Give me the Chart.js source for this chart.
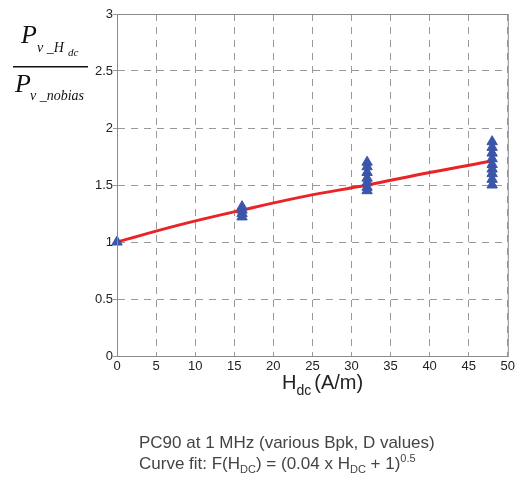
<!DOCTYPE html>
<html>
<head>
<meta charset="utf-8">
<script src="https://cdn.jsdelivr.net/npm/chart.js@4/dist/chart.umd.min.js"></script>
<style>
  body { margin: 0; background: #fff; }
</style>
</head>
<body>
<canvas id="myChart" width="518" height="486"></canvas>
<script>
// measured points (H_dc in A/m, normalized loss)
const hdc16 = [1.22, 1.25, 1.28, 1.31];
const hdc32 = [1.45, 1.48, 1.52, 1.56, 1.61, 1.66, 1.70];
const hdc48 = [1.50, 1.55, 1.60, 1.64, 1.68, 1.73, 1.78, 1.83, 1.88];
const hdc0 = [1.0];

// curve fit
const fitX = [0, 8, 16, 24, 32, 40, 48];
const fitY = [1.0, 1.15, 1.28, 1.40, 1.50, 1.61, 1.71];

const xTicks = [0, 5, 10, 15, 20, 25, 30, 35, 40, 45, 50];
const yTicks = [0, 0.5, 1, 1.5, 2, 2.5, 3];

const points = [];
hdc0.forEach(v => points.push({x: 0, y: v}));
hdc16.forEach(v => points.push({x: 16, y: v}));
hdc32.forEach(v => points.push({x: 32, y: v}));
hdc48.forEach(v => points.push({x: 48, y: v}));

const fit = fitX.map((x, i) => ({x: x, y: fitY[i]}));

const frameAndText = {
    id: 'frameAndText',
    afterDraw(chart) {
        const ctx = chart.ctx;
        const a = chart.chartArea;
        ctx.save();
        // box
        ctx.strokeStyle = '#8a8a8a';
        ctx.lineWidth = 1;
        ctx.setLineDash([]);
        ctx.strokeRect(a.left + 0.5, a.top + 0.5, a.right - a.left, a.bottom - a.top);

        // x axis title
        ctx.fillStyle = '#222';
        ctx.textBaseline = 'alphabetic';
        ctx.textAlign = 'left';
        ctx.font = '20px "Liberation Sans", Arial, sans-serif';
        let x = 282;
        ctx.fillText('H', x, 389);
        x += ctx.measureText('H').width;
        ctx.font = '14px "Liberation Sans", Arial, sans-serif';
        ctx.fillText('dc', x, 395);
        x += ctx.measureText('dc').width + 3;
        ctx.font = '20px "Liberation Sans", Arial, sans-serif';
        ctx.fillText('(A/m)', x, 389);

        // caption
        ctx.fillStyle = '#444';
        ctx.font = '17px "Liberation Sans", Arial, sans-serif';
        ctx.fillText('PC90 at 1 MHz (various Bpk, D values)', 139, 448);
        x = 139;
        const cap = [
            ['Curve fit: F(H', 17, 0],
            ['DC', 11, 4],
            [') = (0.04 x H', 17, 0],
            ['DC', 11, 4],
            [' + 1)', 17, 0],
            ['0.5', 11, -7]
        ];
        cap.forEach(p => {
            ctx.font = p[1] + 'px "Liberation Sans", Arial, sans-serif';
            ctx.fillText(p[0], x, 469 + p[2]);
            x += ctx.measureText(p[0]).width;
        });

        // y label fraction
        ctx.fillStyle = '#111';
        ctx.font = 'italic 26px "Liberation Serif", "Times New Roman", serif';
        ctx.fillText('P', 21, 43);
        ctx.font = 'italic 14px "Liberation Serif", "Times New Roman", serif';
        ctx.fillText('v _H', 37, 52);
        ctx.font = 'italic 11px "Liberation Serif", "Times New Roman", serif';
        ctx.fillText('dc', 68, 56);
        ctx.fillRect(13, 66, 75, 1.5);
        ctx.font = 'italic 26px "Liberation Serif", "Times New Roman", serif';
        ctx.fillText('P', 15, 92);
        ctx.font = 'italic 14px "Liberation Serif", "Times New Roman", serif';
        ctx.fillText('v _nobias', 30, 100);
        ctx.restore();
    }
};

const config = {
    type: 'scatter',
    data: {
        datasets: [{
            label: 'measured',
            data: points,
            pointStyle: 'triangle',
            pointRadius: 6,
            backgroundColor: '#3b55a8',
            borderColor: '#3b55a8',
            clip: false,
        }, {
            label: 'fit',
            data: fit,
            showLine: true,
            borderColor: '#ea2326',
            borderWidth: 3,
            pointRadius: 0,
            tension: 0.4,
            fill: false,
        }]
    },
    options: {
        responsive: false,
        animation: false,
        layout: { padding: { left: 0, right: 9, top: 14, bottom: 0 } },
        plugins: {
            legend: { display: false },
            tooltip: { enabled: false },
        },
        scales: {
            x: {
                type: 'linear',
                min: 0,
                max: 50,
                afterBuildTicks: s => { s.ticks = xTicks.map(v => ({value: v})); },
                afterFit: s => { s.height = 130; },
                grid: { color: '#999', drawTicks: false, lineWidth: 1 },
                border: { color: '#8a8a8a', dash: [7, 6] },
                ticks: { color: '#222', font: { size: 13, family: 'Arial' }, padding: 3 },
            },
            y: {
                min: 0,
                max: 3,
                afterBuildTicks: s => { s.ticks = yTicks.map(v => ({value: v})); },
                afterFit: s => { s.width = 117; },
                grid: { color: '#999', drawTicks: true, tickLength: 4, lineWidth: 1 },
                border: { color: '#8a8a8a', dash: [7, 6] },
                ticks: {
                    color: '#222',
                    font: { size: 13, family: 'Arial' },
                    padding: 0,
                    callback: v => String(v),
                },
            }
        }
    },
    plugins: [frameAndText]
};

const myChart = new Chart(document.getElementById('myChart'), config);
</script>
</body>
</html>
